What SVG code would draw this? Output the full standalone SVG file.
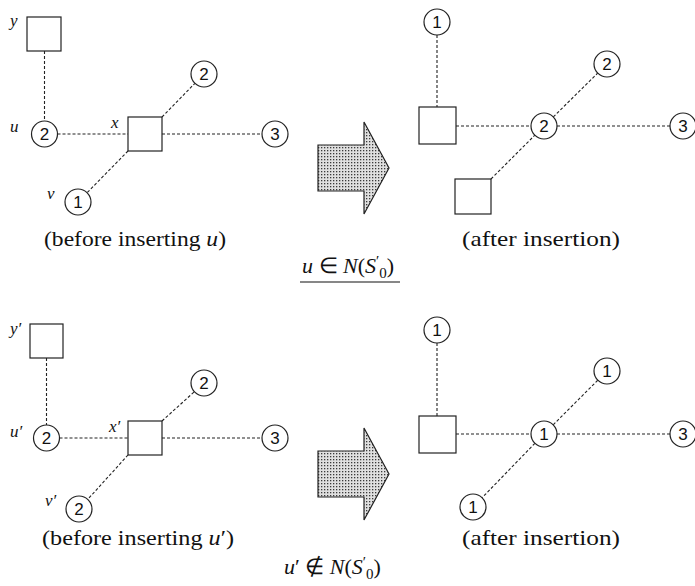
<svg xmlns="http://www.w3.org/2000/svg" width="695" height="586" viewBox="0 0 695 586">
<style>
.sq{fill:#fff;stroke:#222;stroke-width:1.2}
.nd{fill:#fff;stroke:#222;stroke-width:1.2}
.num{font-family:"Liberation Sans",Arial,sans-serif;font-size:17px;fill:#111;text-anchor:middle}
.lbl{font-family:"Liberation Serif","Times New Roman",serif;font-style:italic;font-size:17px;fill:#111}
.cap{font-family:"Liberation Serif","Times New Roman",serif;font-size:22px;fill:#111}
.math{font-family:"Liberation Serif","Times New Roman",serif;font-size:22px;fill:#111}
.it{font-style:italic}
.edge line{stroke:#222;stroke-width:1.1;stroke-dasharray:3 2}
.arrow{fill:url(#dots);stroke:#222;stroke-width:1.2}
</style>
<defs>
<pattern id="dots" width="3" height="3" patternUnits="userSpaceOnUse">
<rect width="3" height="3" fill="#e0e0e0"/>
<rect x="0" y="0" width="1.3" height="1.3" fill="#3a3a3a"/>
</pattern>
</defs>
<rect width="695" height="586" fill="#fff"/>

<g id="connectors" class="edge">
<!-- top-left -->
<line x1="44.5" y1="51" x2="44.5" y2="121"/>
<line x1="57.5" y1="134" x2="128" y2="134"/>
<line x1="162" y1="134" x2="262" y2="134"/>
<line x1="162" y1="117" x2="194.9" y2="83.3"/>
<line x1="128" y1="151" x2="87.1" y2="192.7"/>
<!-- top-right -->
<line x1="437" y1="35" x2="437" y2="107"/>
<line x1="456" y1="126" x2="531" y2="126"/>
<line x1="557" y1="126" x2="670" y2="126"/>
<line x1="553.3" y1="116.9" x2="597.7" y2="73.1"/>
<line x1="491" y1="179" x2="534.8" y2="135.2"/>
<!-- bottom-left -->
<line x1="46.5" y1="358" x2="46.5" y2="425"/>
<line x1="59.5" y1="438" x2="128" y2="438"/>
<line x1="162" y1="438" x2="262" y2="438"/>
<line x1="162" y1="421" x2="194.4" y2="391.7"/>
<line x1="128" y1="455" x2="87.7" y2="499.4"/>
<!-- bottom-right -->
<line x1="437" y1="343" x2="437" y2="416"/>
<line x1="456" y1="434" x2="531" y2="434"/>
<line x1="557" y1="434" x2="670" y2="434"/>
<line x1="553.2" y1="424.8" x2="597.8" y2="380.2"/>
<line x1="534.9" y1="443.3" x2="482.1" y2="497.7"/>
</g>

<!-- top-left diagram -->
<g id="tl-y"><rect class="sq" x="27" y="17" width="34" height="34"/><text class="lbl" x="10" y="26">y</text></g>
<g id="tl-u"><circle class="nd" cx="44.5" cy="134" r="13"/><text class="num" x="44.5" y="140">2</text><text class="lbl" x="10" y="132">u</text></g>
<g id="tl-x"><rect class="sq" x="128" y="117" width="34" height="34"/><text class="lbl" x="111" y="128">x</text></g>
<g id="tl-a"><circle class="nd" cx="204" cy="74" r="13"/><text class="num" x="204" y="80">2</text></g>
<g id="tl-b"><circle class="nd" cx="275" cy="134" r="13"/><text class="num" x="275" y="140">3</text></g>
<g id="tl-v"><circle class="nd" cx="78" cy="202" r="13"/><text class="num" x="78" y="208">1</text><text class="lbl" x="47" y="199">v</text></g>

<!-- top-right diagram -->
<g id="tr-a"><circle class="nd" cx="437" cy="22" r="13"/><text class="num" x="437" y="28">1</text></g>
<g id="tr-s1"><rect class="sq" x="419" y="107" width="37" height="37"/></g>
<g id="tr-c"><circle class="nd" cx="544" cy="126" r="13"/><text class="num" x="544" y="132">2</text></g>
<g id="tr-b"><circle class="nd" cx="607" cy="64" r="13"/><text class="num" x="607" y="70">2</text></g>
<g id="tr-d"><circle class="nd" cx="683" cy="126" r="13"/><text class="num" x="683" y="132">3</text></g>
<g id="tr-s2"><rect class="sq" x="455" y="179" width="36" height="35"/></g>

<!-- arrows -->
<g id="arrow-top"><polygon class="arrow" points="318,145 364,145 364,122 389,168 364,214 364,191 318,191"/></g>
<g id="arrow-bottom"><polygon class="arrow" points="318,451 364,451 364,428 389,474 364,520 364,497 318,497"/></g>

<!-- captions top -->
<g id="cap-tl"><text class="cap" x="44" y="246" textLength="182" lengthAdjust="spacingAndGlyphs">(before inserting <tspan class="it">u</tspan>)</text></g>
<g id="cap-tr"><text class="cap" x="462" y="246" textLength="158" lengthAdjust="spacingAndGlyphs">(after insertion)</text></g>
<g id="cond-top">
<text class="math" x="302" y="273"><tspan class="it">u</tspan> ∈ <tspan class="it">N</tspan>(<tspan class="it">S</tspan><tspan font-size="15" dy="-7">′</tspan><tspan font-size="15" dy="12">0</tspan><tspan dy="-5">)</tspan></text>
<line x1="300" y1="282" x2="400" y2="282" stroke="#111" stroke-width="1.2"/>
</g>

<!-- bottom-left diagram -->
<g id="bl-y"><rect class="sq" x="30" y="324" width="33" height="34"/><text class="lbl" x="10" y="334">y′</text></g>
<g id="bl-u"><circle class="nd" cx="46.5" cy="438" r="13"/><text class="num" x="46.5" y="444">2</text><text class="lbl" x="10" y="437">u′</text></g>
<g id="bl-x"><rect class="sq" x="128" y="421" width="34" height="34"/><text class="lbl" x="109" y="432">x′</text></g>
<g id="bl-a"><circle class="nd" cx="204" cy="383" r="13"/><text class="num" x="204" y="389">2</text></g>
<g id="bl-b"><circle class="nd" cx="275" cy="438" r="13"/><text class="num" x="275" y="444">3</text></g>
<g id="bl-v"><circle class="nd" cx="79" cy="509" r="13"/><text class="num" x="79" y="515">2</text><text class="lbl" x="45" y="506">v′</text></g>

<!-- bottom-right diagram -->
<g id="br-a"><circle class="nd" cx="437" cy="330" r="13"/><text class="num" x="437" y="336">1</text></g>
<g id="br-s"><rect class="sq" x="419" y="416" width="37" height="37"/></g>
<g id="br-c"><circle class="nd" cx="544" cy="434" r="13"/><text class="num" x="544" y="440">1</text></g>
<g id="br-b"><circle class="nd" cx="607" cy="371" r="13"/><text class="num" x="607" y="377">1</text></g>
<g id="br-d"><circle class="nd" cx="683" cy="434" r="13"/><text class="num" x="683" y="440">3</text></g>
<g id="br-e"><circle class="nd" cx="473" cy="507" r="13"/><text class="num" x="473" y="513">1</text></g>

<!-- captions bottom -->
<g id="cap-bl"><text class="cap" x="42" y="545" textLength="192" lengthAdjust="spacingAndGlyphs">(before inserting <tspan class="it">u</tspan>′)</text></g>
<g id="cap-br"><text class="cap" x="462" y="545" textLength="158" lengthAdjust="spacingAndGlyphs">(after insertion)</text></g>
<g id="cond-bottom">
<text class="math" x="284" y="574"><tspan class="it">u</tspan>′ ∉ <tspan class="it">N</tspan>(<tspan class="it">S</tspan><tspan font-size="15" dy="-7">′</tspan><tspan font-size="15" dy="12">0</tspan><tspan dy="-5">)</tspan></text>
</g>
</svg>
